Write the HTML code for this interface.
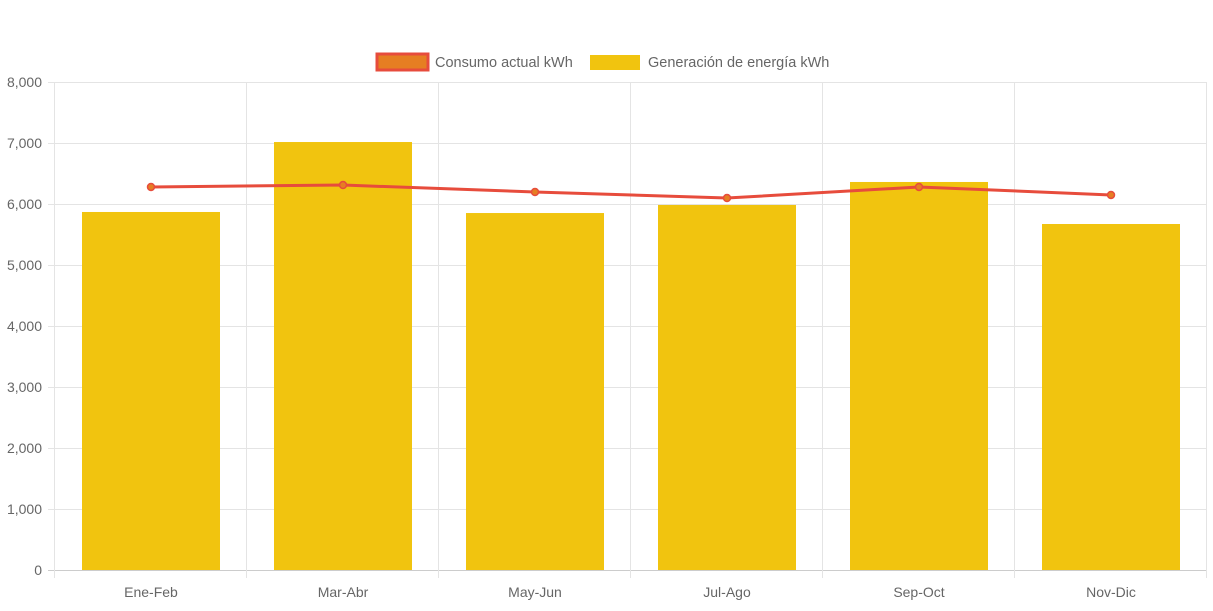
<!DOCTYPE html>
<html><head><meta charset="utf-8"><style>
body{margin:0;background:#fff;font-family:"Liberation Sans",Arial,sans-serif}
svg text{font-family:"Liberation Sans",Arial,sans-serif;fill:#666;font-size:14px}
svg .lg{font-size:14.5px}
</style></head><body>
<svg id="c" width="1213" height="606"></svg>
<script>
const categories=["Ene-Feb","Mar-Abr","May-Jun","Jul-Ago","Sep-Oct","Nov-Dic"];
const generacion=[5869,7016,5852,5984,6361,5672];
const consumo=[6279,6311,6197,6098,6279,6148];
const yTicks=[0,1000,2000,3000,4000,5000,6000,7000,8000];
const svg=document.getElementById('c');
const NS='http://www.w3.org/2000/svg';
const L=54,R=1206,T=82,B=570,yMax=8000;
const bw=(R-L)/categories.length;
const y=v=>B-(v/yMax)*(B-T);
const x=i=>L+bw*(i+0.5);
function mk(t,a,p){const e=document.createElementNS(NS,t);for(const k in a)e.setAttribute(k,a[k]);(p||svg).appendChild(e);return e;}
yTicks.forEach(v=>{
 const g=mk('line',{x1:L-6,x2:R,y1:y(v)+.5,y2:y(v)+.5,stroke:v===0?'#ccc':'#e4e4e4'});
 
 
 const t=mk('text',{x:L-12,y:y(v)+5,'text-anchor':'end'});t.textContent=v.toLocaleString('en-US');
 
 
});
for(let i=0;i<=categories.length;i++){
 const g=mk('line',{x1:L+bw*i+.5,x2:L+bw*i+.5,y1:T,y2:B+8,stroke:'#e4e4e4'});
 
 
}
categories.forEach((c,i)=>{
 const b=mk('rect',{x:x(i)-68,y:y(generacion[i]),width:138,height:B-y(generacion[i]),fill:'#f1c40f'});
 
 
 const t=mk('text',{x:x(i)+1,y:B+27,'text-anchor':'middle'});t.textContent=c;
 
 
});
const ln=mk('polyline',{points:consumo.map((v,i)=>(x(i)+1)+','+y(v)).join(' '),fill:'none',stroke:'#e74c3c','stroke-width':3});


consumo.forEach((v,i)=>{
 const p=mk('circle',{cx:x(i)+1,cy:y(v),r:3.5,fill:'#e67e22',stroke:'#e74c3c','stroke-width':1.5});
 
 
});
const lg=mk('g',{});


const r1=mk('rect',{x:377,y:54,width:51,height:16,fill:'#e67e22',stroke:'#e74c3c','stroke-width':3},lg);


const t1=mk('text',{x:435,y:67,class:'lg'},lg);t1.textContent='Consumo actual kWh';


const r2=mk('rect',{x:590,y:55,width:50,height:15,fill:'#f1c40f'},lg);


const t2=mk('text',{x:648,y:67,class:'lg'},lg);t2.textContent='Generación de energía kWh';


</script>
</body></html>
